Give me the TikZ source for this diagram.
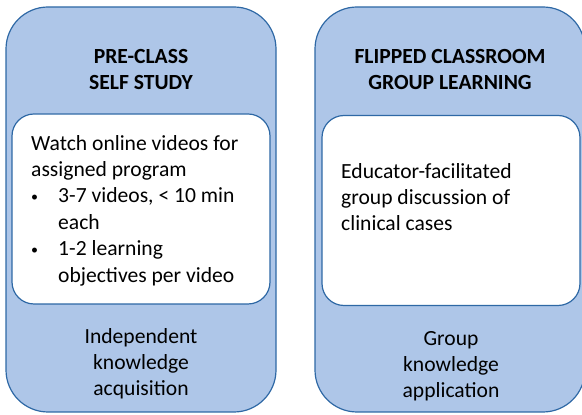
\documentclass[tikz,border=0pt]{standalone}
\usepackage{fontspec}
\setmainfont{Carlito}
\usepackage{xcolor}
\usetikzlibrary{positioning}

\definecolor{panelfill}{RGB}{174,198,232}
\definecolor{paneledge}{RGB}{46,104,165}

\newcommand{\dotitem}{\makebox[27pt][l]{\raisebox{1.5pt}{\fontsize{14}{14}\selectfont\textbullet}}}

\begin{document}
\begin{tikzpicture}[
    x=1pt, y=1pt,
    panel/.style={
        rectangle, draw=paneledge, fill=panelfill, line width=1.2pt,
        rounded corners=42pt, inner sep=0pt,
        minimum width=270pt, minimum height=405pt
    },
    card/.style={
        rectangle, draw=paneledge, fill=white, line width=1.2pt,
        rounded corners=22pt, inner sep=0pt,
        minimum width=258pt, minimum height=190pt
    },
    heading/.style={
        inner sep=0pt, align=center, anchor=north,
        font=\bfseries\fontsize{21.6}{26}\selectfont
    },
    body/.style={
        inner sep=0pt, align=left, anchor=north west,
        font=\fontsize{21.6}{26.4}\selectfont
    },
    caption/.style={
        inner sep=0pt, align=center, anchor=north,
        font=\fontsize{21.6}{26}\selectfont
    }
]

% Frame
\useasboundingbox (0,0) rectangle (582,415);
\clip (0,0) rectangle (582,415);

% Panels
\node[panel] (pre) at (141,205.5) {};
\node[panel] (flip) at (450,205.5) {};

% Inner cards
\node[card] (precard) at (141,206) {};
\node[card] (flipcard) at (451,204.5) {};

% Headings
\node[heading] (pretitle) at (141,366) {PRE-CLASS\\SELF STUDY};
\node[heading] (fliptitle) at (450,366) {FLIPPED CLASSROOM\\GROUP LEARNING};

% Card texts
\node[body] (pretext) at (31,280) {Watch online videos for\\assigned program\\
    \dotitem 3-7 videos, < 10 min\\
    \hspace*{27pt}each\\
    \dotitem 1-2 learning\\
    \hspace*{27pt}objectives per video};
\node[body] (fliptext) at (341,252) {Educator-facilitated\\group discussion of\\clinical cases};

% Captions
\node[caption] (precap) at (141,87) {Independent\\knowledge\\acquisition};
\node[caption] (flipcap) at (451,84) {Group\\knowledge\\application};

\end{tikzpicture}
\end{document}
